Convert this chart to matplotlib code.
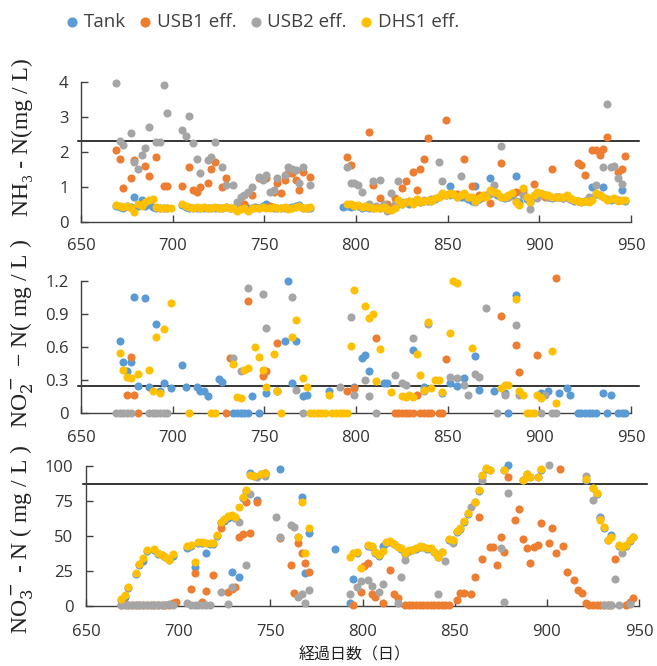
import numpy as np
import matplotlib.pyplot as plt

n = np.nan

# sampling days (elapsed days)
days = [
    669, 671, 673, 675, 677, 679, 681, 683, 685, 687,
    689, 691, 693, 695, 697, 699, 705, 707, 709, 711,
    713, 715, 717, 719, 721, 723, 725, 727, 729, 731,
    733, 735, 737, 739, 741, 743, 745, 747, 749, 751,
    753, 755, 757, 759, 761, 763, 765, 767, 769, 771,
    773, 775, 777, 779, 781, 783, 785, 787, 789, 791,
    793, 795, 797, 799, 801, 803, 805, 807, 809, 811,
    813, 815, 817, 819, 821, 823, 825, 827, 829, 831,
    833, 835, 837, 839, 841, 843, 845, 847, 849, 851,
    853, 855, 857, 859, 861, 863, 865, 867, 869, 871,
    873, 875, 877, 879, 881, 883, 885, 887, 889, 891,
    893, 895, 897, 899, 901, 903, 905, 907, 909, 911,
    913, 915, 917, 919, 921, 923, 925, 927, 929, 931,
    933, 935, 937, 939, 941, 943, 945, 947]

series_names = ["Tank", "USB1 eff.", "USB2 eff.", "DHS1 eff."]
series_colors = ["#5B9BD5", "#ED7D31", "#A5A5A5", "#FFC000"]

# ---- NH3-N (mg/L)
nh3_tank = [
    .45, .42, .40, .45, .42, .71, .45, .62, .45, .50,
    .42, .40, .40, .38, .38, n, .48, .42, .40, .40,
    .38, .40, .40, .38, .40, .40, .38, .40, .42, .40,
    .40, .35, .38, .42, .38, .40, .42, .40, .45, .50,
    .42, .40, .40, .38, .40, .38, .42, .45, .48, .40,
    .40, .40, n, n, n, n, n, n, n, n,
    .41, .45, .42, .45, .45, .40, .42, .40, .38, .42,
    .40, .45, .38, .40, .45, .55, .50, .55, .50, .55,
    .60, .55, .60, .58, .60, .65, .70, .75, .75, 1.03,
    .80, .75, .72, .70, .65, .60, 1.02, .65, .70, .75,
    1.26, .85, .75, .70, .68, .70, .75, 1.31, .55, .90,
    .65, .55, .70, .80, .78, .75, .70, .68, .70, .70,
    .68, .72, .65, .60, .60, .55, .58, .60, 1.00, .80,
    .75, 1.00, .65, .62, .65, .62, .90, .60]
nh3_usb1 = [
    2.05, 1.78, .95, n, 1.24, 1.76, n, n, 1.59, 1.30,
    n, 1.86, n, 1.02, 1.02, n, 1.02, n, 1.57, .90,
    .86, 1.00, n, 1.10, 1.52, 1.71, n, 1.00, 1.24, n,
    n, .45, n, .52, n, .76, n, 1.24, n, 1.24,
    .45, .86, 1.10, .81, 1.19, 1.38, 1.38, 1.19, .90, 1.43,
    n, 1.29, n, n, n, n, n, n, n, n,
    n, 1.84, 1.62, n, n, n, n, 2.57, 1.05, n,
    .67, n, .50, n, .67, .50, .95, 1.16, n, 1.41,
    .92, 1.52, 1.78, 2.38, n, n, n, n, 2.92, n,
    n, .80, n, 1.79, n, 1.02, n, .75, n, n,
    .54, n, n, 1.67, n, .70, n, .85, n, .81,
    n, n, 1.08, .80, n, .72, n, 1.52, n, .70,
    n, n, n, n, 1.69, 1.62, 1.34, n, 2.05, 2.05,
    1.90, 2.08, 2.41, n, n, 1.43, 1.52, 1.89]
nh3_usb2 = [
    3.95, 2.30, 2.20, n, 2.54, 1.70, 1.50, 1.90, 2.10, 2.70,
    n, 2.28, 2.28, 3.90, 3.12, n, 2.62, 2.45, 3.03, 2.24,
    1.79, 1.38, n, 1.76, 1.86, 2.27, n, 1.57, 1.05, n,
    1.05, .57, .71, .76, .86, 1.00, n, 1.29, 1.20, 1.33,
    .86, .90, 1.24, n, 1.33, 1.57, 1.52, 1.48, 1.10, 1.57,
    .38, 1.05, n, n, n, n, n, n, n, n,
    n, 1.57, 1.10, 1.10, 1.05, .84, n, .50, 1.17, .45,
    1.19, .52, .31, .81, .50, 1.17, .55, n, .60, n,
    .60, n, .62, n, .65, n, 1.70, 1.17, n, .75,
    n, .70, 1.31, n, .70, n, .57, n, .70, n,
    .80, 1.05, n, 2.16, n, .70, n, .60, n, .76,
    n, .35, n, .69, .78, n, .70, n, .70, n,
    .68, n, .65, n, .60, n, .60, .71, n, 1.05,
    n, 1.57, 3.35, 1.57, 1.59, 1.24, 1.08, n]
nh3_dhs1 = [
    .48, .45, .42, .45, .40, .28, .50, .45, .55, .62,
    .65, .42, .40, .38, .40, .38, .50, .45, .42, .40,
    .42, .40, .42, .38, .40, .42, .38, .40, .42, .40,
    .38, .30, .35, .40, .32, .38, .40, .38, .42, .40,
    .38, .42, .40, .38, .42, .35, .40, .42, .45, .40,
    .38, .42, n, n, n, n, n, n, n, n,
    n, .52, .50, .45, .48, .42, .45, .43, .38, .40,
    .38, .41, .36, .33, .40, .62, .52, .55, .60, .52,
    .64, .57, .60, .62, .60, .67, .72, .81, .75, .81,
    .78, .71, .75, .81, .70, .71, .60, .67, .75, .71,
    .90, .85, .81, .70, .71, .75, .81, .57, .48, .95,
    .70, .57, .75, .86, .81, .75, .76, .70, .72, .71,
    .70, .76, .68, .62, .60, .57, .60, .57, .62, .81,
    .75, .71, .62, .65, .67, .60, .62, .62]

# ---- NO2-N (mg/L)
no2_tank = [
    n, .65, .46, .38, .46, 1.05, .25, n, 1.04, .24,
    n, .81, .20, .27, n, .23, .44, .24, n, n,
    .24, .20, .20, .16, n, n, .31, .28, n, n,
    0, 0, 0, 0, 0, .16, n, 0, n, .18,
    n, n, .20, n, .65, 1.20, .27, .65, n, .16,
    .17, n, n, n, n, n, .20, n, n, n,
    n, n, n, .24, n, .50, .53, .38, n, n,
    n, .27, .27, n, n, n, n, n, n, .57,
    n, n, .24, n, n, n, n, .18, n, .27,
    n, .25, n, .32, n, n, .52, .21, n, n,
    n, .20, n, n, .18, 0, n, 1.07, n, n,
    n, n, n, n, .18, n, .20, n, n, .18,
    n, .23, .17, n, 0, 0, 0, 0, 0, 0,
    n, .18, 0, .17, n, 0, 0, 0]
no2_usb1 = [
    n, n, n, .17, .51, .17, 0, n, n, n,
    n, n, n, n, n, n, n, n, n, n,
    n, n, n, n, n, n, n, n, 0, .50,
    n, n, n, n, 1.02, n, n, n, .34, .38,
    n, n, .64, n, n, n, n, n, n, n,
    n, n, n, n, n, n, n, n, n, n,
    n, .20, n, .23, n, n, n, n, n, .68,
    n, n, n, n, 0, 0, 0, 0, 0, 0,
    .17, 0, 0, 0, 0, n, 0, 0, .49, n,
    n, n, n, n, n, n, n, n, n, n,
    n, n, n, .88, n, n, n, .62, .37, n,
    n, n, n, .53, n, n, n, n, 1.22, n,
    n, n, n, n, n, n, n, n, n, n,
    n, n, n, n, n, n, n, n]
no2_usb2 = [
    0, 0, 0, 0, 0, n, n, n, n, 0,
    0, 0, 0, 0, 0, n, n, n, n, n,
    n, n, n, n, n, n, n, n, n, n,
    .50, n, .38, n, 1.13, n, n, n, 1.08, .77,
    n, n, .20, n, n, n, 1.05, .21, n, 0,
    n, n, n, n, n, n, n, n, n, .24,
    n, n, .87, .17, n, n, .30, .16, n, 0,
    n, n, n, n, .35, n, .27, .26, n, .68,
    n, n, .20, .81, n, n, n, n, n, .33,
    n, .32, n, .26, .17, n, .36, .33, n, .95,
    n, n, 0, n, .17, n, n, .80, .17, n,
    n, n, n, n, 0, .17, n, 0, 0, n,
    n, n, n, n, n, n, n, n, n, n,
    n, n, n, n, n, n, n, n]
no2_dhs1 = [
    n, .55, .39, .33, .32, n, .36, n, n, .39,
    .20, .69, .18, .76, n, 1.00, n, n, 0, n,
    n, n, n, n, 0, 0, n, n, n, n,
    .45, .15, .14, .39, .41, n, .60, .51, .39, .24,
    n, .54, .20, 0, n, n, .69, .84, n, .32,
    .24, 0, 0, 0, 0, 0, .17, 0, 0, 0,
    0, 0, .61, 1.12, n, n, .97, .86, .90, .29,
    .58, n, n, .19, n, n, .16, .15, .17, .15,
    .54, .35, .21, .83, .23, .30, .30, .19, n, .73,
    1.20, 1.18, n, n, n, .59, n, n, n, n,
    n, n, n, .23, .26, .26, n, 1.03, .20, .17,
    0, 0, 0, .17, .14, n, n, .56, .09, n,
    n, n, n, n, n, n, n, n, n, n,
    n, n, n, n, n, n, n, n]

# ---- NO3-N (mg/L)
no3_tank = [
    4, 6.7, 13, n, 23, 29, 32.4, 39, n, 40,
    37, 36.4, 35, 33, 36, n, 41.2, 43, 28, 45,
    45, 37.6, 44, 44, 50, 59, 61, 63, 24.5, 63,
    21, 77, 82, 95, 93, 76, 94, 95, n, n,
    n, 97.6, n, n, n, n, 49, 77.6, 23.3, 52,
    n, n, n, n, n, n, 40.5, n, n, n,
    2.4, 19, 38, n, n, 43, 42.5, 38, 36, 42.9,
    45, 46, 44, n, 41, 37, 39.5, 40, 41, 42.5,
    42, 41, 41, 38.5, 35, 38.5, n, 47, 47, 53,
    54.8, 60, 66, n, 74, 82, 93, 98, 97, n,
    n, n, 97, 100.7, n, n, n, 90, 94, 92,
    n, 92, 97, n, n, n, n, n, n, n,
    n, n, n, n, 90, n, 84, 80, 63.3, 56,
    47, 50.7, n, 43, 42, 43, 46.5, 49]
no3_usb1 = [
    .5, 1.5, 1, .5, 1, .5, 1, .5, 1, .5,
    .5, 1, .5, 1, 2, 3, n, 11.9, 23.8, n,
    2.6, 10.7, n, 22, n, 56, n, 10.2, 11.9, 13.8,
    49.5, 51.4, 74.5, 52.4, n, 74.5, n, 94.8, n, n,
    n, 48.3, n, n, 29.3, 9, 44.8, 37.6, 30.5, 24.5,
    n, n, n, n, n, n, n, n, n, n,
    n, .7, n, 10.2, 28.6, 30.5, 8.6, 6.7, n, 2.4,
    n, 25.7, 8.6, 5.5, n, .5, 1, .5, 1, .5,
    1, .5, 1, .5, .5, 1, .5, 1, n, 4.3,
    9.5, 9, n, 8.6, 20.5, 63.8, 33.3, n, 41.9, 41.9,
    29.3, 49.5, 38.8, 92.4, n, 61.4, 69, 47.6, 41.2, 30.5,
    41.9, 43.6, 59.5, n, 44.8, 55.5, 38, 97.6, 42.9, 24.5,
    n, 18.6, 11.4, 9.5, 1.9, .5, .5, .5, .5, .5,
    .5, .5, 33.3, n, n, .7, 3.1, 5.5]
no3_usb2 = [
    .5, 1, .5, 1, .5, 1, .5, .8, .5, 1,
    .5, 1, .5, 1.5, 1, n, 2, 1, .5, 1,
    .5, 1, .5, n, n, 10.2, n, 1.4, 13.8, n,
    60, n, 29, 80, n, 92, n, 93, n, n,
    63.3, 49.5, n, n, 58, 56.2, 6.7, 8.6, 1.9, 11.4,
    n, n, n, n, n, n, n, n, n, n,
    8.6, n, 13.8, 18, n, 18.6, 14.3, n, 10.2, 15.7,
    n, n, n, 1.9, 20.5, 32.9, n, n, n, n,
    n, n, n, n, 8.6, n, 32.4, n, 44.8, n,
    n, n, n, 71, n, n, 90, n, n, n,
    n, 41.2, 2.6, 80.5, n, n, n, n, n, n,
    n, n, n, n, 100.7, n, n, n, n, n,
    n, n, n, n, 92.9, n, 76, n, 62.6, .5,
    .5, .5, 19, .5, 38, n, 1.4, n]
no3_dhs1 = [
    4.8, 7.9, 13.8, n, 23.3, 30, 34, 40, n, 41,
    37.6, 36.4, 35, 33, 37, n, 42.9, 43.6, 31.7, 46,
    45.5, 45, 44.8, 44.8, 50.7, 60, 62, 64, 65, 63.3,
    71, 78, 83, 93.6, 93, n, 94.3, 95.2, n, n,
    n, n, n, n, n, n, 49.5, 74.5, 37.6, 55.5,
    n, n, n, n, n, n, n, n, n, n,
    34.8, 38, 38.8, 27, n, 43.6, 42.9, 38.3, 36.4, 39.5,
    46, 46.7, 44.3, 42, 41.2, 37.6, 40, 40, 41.2, 42.9,
    42, 41.2, 41.2, 38.8, 35.2, 38.8, n, 47.6, 47.1, 53.8,
    55.5, 61, 66.7, n, 74.5, 82.9, 93.6, 98.3, 97.1, n,
    n, n, 97.1, n, n, n, n, 90, 94, 92,
    n, 92, 97.6, n, n, n, n, n, n, n,
    n, n, n, n, 90.5, n, 84, 80.5, 61.4, 56.7,
    47, 49.5, n, 43.6, 42.4, 43.6, 47, 49.5]

nh3_limit = 2.3
no2_limit = 0.25
no3_limit = 87

plt.rcParams['font.family'] = ['Open Sans', 'DejaVu Sans']
plt.rcParams['mathtext.fontset'] = 'dejavuserif'

W, H = 657, 666
fig = plt.figure(figsize=(W / 100, H / 100), dpi=100)


def box(left, right, top, bottom):
    return [left / W, 1 - bottom / H, (right - left) / W, (bottom - top) / H]


ax1 = fig.add_axes(box(81, 631, 81.7, 221.7))
ax2 = fig.add_axes(box(81, 631, 280.7, 413.3))
ax3 = fig.add_axes(box(86, 639, 466, 606))

panels = [
    (ax1, [nh3_tank, nh3_usb1, nh3_usb2, nh3_dhs1], nh3_limit, 4,
     [0, 1, 2, 3, 4], ["0", "1", "2", "3", "4"], 12),
    (ax2, [no2_tank, no2_usb1, no2_usb2, no2_dhs1], no2_limit, 1.2,
     [0, 0.3, 0.6, 0.9, 1.2], ["0", "0.3", "0.6", "0.9", "1.2"], 12),
    (ax3, [no3_tank, no3_usb1, no3_usb2, no3_dhs1], no3_limit, 100,
     [0, 25, 50, 75, 100], ["0", "25", "50", "75", "100"], 13),
]

for ax, data, limit, ytop, yt, ytl, xpad in panels:
    for vals, name, col in zip(data, series_names, series_colors):
        assert len(vals) == len(days), name
        ax.scatter(days, vals, s=34, color=col, linewidths=0, label=name,
                   clip_on=False, zorder=3)
    ax.axhline(limit, xmin=-0.005, xmax=1.015, color="black", lw=1.1,
               clip_on=False, zorder=2)
    ax.set_xlim(650, 950)
    ax.set_ylim(0, ytop)
    ax.set_xticks(range(650, 951, 50))
    ax.set_yticks(yt)
    ax.set_yticklabels(ytl)
    for side in ["top", "right"]:
        ax.spines[side].set_visible(False)
    for side in ["left", "bottom"]:
        ax.spines[side].set_color("#404040")
        ax.spines[side].set_linewidth(1.0)
    ax.tick_params(axis="both", direction="in", length=5, width=1.0,
                   color="#404040", labelsize=12, labelcolor="#333333")
    ax.tick_params(axis="x", pad=xpad)
    ax.tick_params(axis="y", pad=9)
    ax.patch.set_alpha(0)

serif = ["Liberation Serif", "DejaVu Serif"]
fig.text(22 / W, 1 - 137 / H, "NH₃ - N(mg / L)", rotation=90, ha="center",
         va="center", family=serif, fontsize=17, color="#222222")
fig.text(22 / W, 1 - 334 / H, "NO$_2^-$ − N( mg / L )", rotation=90,
         ha="center", va="center", family=serif, fontsize=17, color="#222222")
fig.text(22 / W, 1 - 539 / H, "NO$_3^-$ - N ( mg / L )", rotation=90,
         ha="center", va="center", family=serif, fontsize=17, color="#222222")

fig.text(355 / W, 1 - 655 / H, "経過日数（日）", ha="center", va="center",
         family=["Noto Sans CJK JP", "DejaVu Sans"], fontsize=11.5,
         color="#222222")

handles, labels = ax1.get_legend_handles_labels()
fig.legend(handles, labels, loc="center", bbox_to_anchor=(261 / W, 1 - 22 / H),
           ncol=4, frameon=False, fontsize=13.5, handletextpad=0.1,
           columnspacing=0.55, handlelength=1.0, scatterpoints=1,
           markerscale=1.25, borderpad=0, labelcolor="#404040")

fig.savefig("out.png", dpi=100)
